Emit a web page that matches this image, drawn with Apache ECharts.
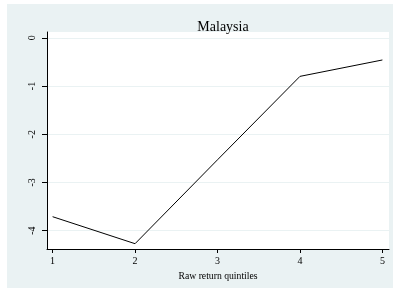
<!DOCTYPE html>
<html>
<head>
<meta charset="utf-8">
<script src="https://cdn.jsdelivr.net/npm/echarts@6/dist/echarts.min.js"></script>
<style>
  html, body { margin: 0; padding: 0; background: #fff; }
  #chart { width: 393px; height: 288px; }
</style>
</head>
<body>
<div id="chart"></div>
<script>
  // quintile vs. value
  var quintiles = [1, 2, 3, 4, 5];
  var values = [-3.71, -4.27, -2.53, -0.80, -0.46];
  var yTicks = [0, -1, -2, -3, -4];
  var xTicks = [1, 2, 3, 4, 5];

  var chart = echarts.init(document.getElementById('chart'));
  var serif = '"Liberation Serif", "DejaVu Serif", serif';

  chart.setOption({
    backgroundColor: '#fff',
    animation: false,
    graphic: [{
      type: 'rect',
      z: -10,
      shape: { x: 7, y: 4, width: 386, height: 284 },
      style: { fill: '#eaf2f3' }
    }],
    title: {
      text: 'Malaysia',
      left: 218,
      textAlign: 'center',
      top: 15,
      textStyle: { fontFamily: serif, fontSize: 14, fontWeight: 'normal', color: '#000' }
    },
    grid: {
      left: 47, right: 4, top: 32, bottom: 39,
      show: true, backgroundColor: '#fff', borderWidth: 0
    },
    xAxis: {
      type: 'value',
      min: 0.932, max: 5.08,
      name: 'Raw return quintiles',
      nameLocation: 'middle',
      nameGap: 22,
      nameTextStyle: { fontFamily: serif, fontSize: 9.7, color: '#000' },
      axisLine: { show: true, onZero: false, lineStyle: { color: '#000', width: 1 } },
      axisTick: { show: true, length: 4, customValues: xTicks, lineStyle: { color: '#000' } },
      axisLabel: { customValues: xTicks, fontFamily: serif, fontSize: 10, color: '#000', margin: 7 },
      splitLine: { show: false }
    },
    yAxis: {
      type: 'value',
      min: -4.38, max: 0.12,
      axisLine: { show: true, onZero: false, lineStyle: { color: '#000', width: 1 } },
      axisTick: { show: true, length: 5, customValues: yTicks, lineStyle: { color: '#000' } },
      axisLabel: { customValues: yTicks, rotate: 90, fontFamily: serif, fontSize: 10, color: '#000', margin: 10 },
      splitLine: { show: true, lineStyle: { color: '#eaf2f3', width: 1 } }
    },
    series: [{
      type: 'line',
      data: quintiles.map(function (q, i) { return [q, values[i]]; }),
      symbol: 'none',
      lineStyle: { color: '#000', width: 1 }
    }]
  });
</script>
</body>
</html>
